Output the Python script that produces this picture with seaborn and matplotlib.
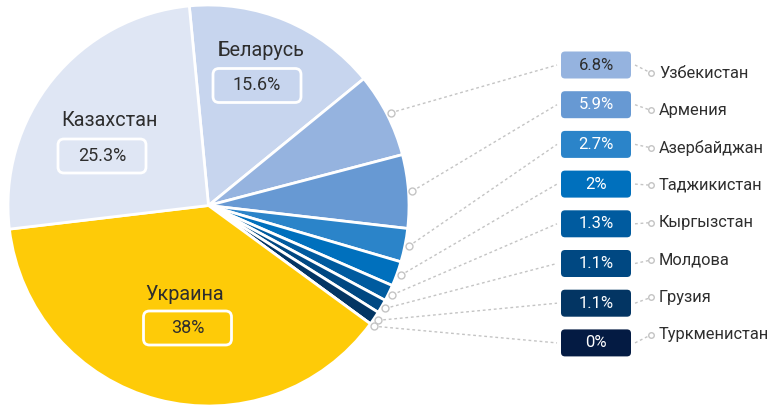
import numpy as np
import matplotlib
matplotlib.use('Agg')
import matplotlib.pyplot as plt
from matplotlib.patches import FancyBboxPatch
import seaborn as sns

#### Data (in pie order, clockwise from the top)
countries = ['Беларусь', 'Узбекистан', 'Армения', 'Азербайджан', 'Таджикистан',
             'Кыргызстан', 'Молдова', 'Грузия', 'Туркменистан', 'Украина', 'Казахстан']
shares = [15.6, 6.8, 5.9, 2.7, 2.0, 1.3, 1.1, 1.1, 0.0, 38.0, 25.3]
share_labels = ['15.6%', '6.8%', '5.9%', '2.7%', '2%', '1.3%', '1.1%', '1.1%', '0%', '38%', '25.3%']
colors = ['#c7d5ee', '#95b3df', '#6799d3', '#2b84c9', '#0070bd',
          '#005b9f', '#004882', '#033563', '#041b43', '#fecb08', '#dfe6f4']

#### Figure setup (1 data unit = 1 pixel)
W, H = 769, 408
sns.set_theme(style='white')
plt.rcParams['font.family'] = ['Roboto', 'DejaVu Sans']
fig = plt.figure(figsize=(W / 100, H / 100), dpi=100)
ax = fig.add_axes([0, 0, 1, 1])

def py(y):
    return H - y

cx, cy, R = 208.5, py(205.5), 200.5
wedges, _ = ax.pie(shares, colors=sns.color_palette(colors), startangle=95.5,
                   counterclock=False, center=(cx, cy), radius=R,
                   wedgeprops=dict(edgecolor='white', linewidth=2))
ax.set_xlim(0, W)
ax.set_ylim(0, H)
ax.set_aspect('equal')
ax.axis('off')

text_col = '#2e2e2e'
line_col = '#c4c4c4'

#### Big slices: name + white outlined box
big = {'Беларусь': (217, 51, 257, 85.5),
       'Казахстан': (61, 121, 102, 156),
       'Украина': (145, 295, 187.5, 328)}
for name, (tx, ty, bx, by) in big.items():
    i = countries.index(name)
    ax.text(tx, py(ty), name, fontsize=14.3, color=text_col, ha='left', va='center')
    ax.add_patch(FancyBboxPatch((bx - 44, py(by) - 17), 88, 34,
                                boxstyle='round,pad=0,rounding_size=6',
                                fc='none', ec='white', lw=2))
    ax.text(bx, py(by), share_labels[i], fontsize=13, color=text_col,
            ha='center', va='center')

#### Small slices: connector + colored box + name
small = countries[1:9]
for k, name in enumerate(small):
    i = countries.index(name)
    w = wedges[i]
    mid = np.deg2rad((w.theta1 + w.theta2) / 2)
    ex, ey = cx + (R + 4) * np.cos(mid), cy + (R + 4) * np.sin(mid)
    by = py(65 + k * 39.7)
    ly = py(73 + k * 37.4)
    ax.plot([ex, 557], [ey, by], color=line_col, lw=1, ls=(0, (2, 2)), zorder=1)
    ax.plot(ex, ey, 'o', ms=5, mfc='white', mec=line_col, mew=1, zorder=3)
    ax.add_patch(FancyBboxPatch((561, by - 13.5), 70, 27,
                                boxstyle='round,pad=0,rounding_size=4',
                                fc=colors[i], ec='none'))
    tc = text_col if k == 0 else 'white'
    ax.text(596, by, share_labels[i], fontsize=12, color=tc, ha='center', va='center')
    ax.plot([635, 651], [by, ly], color=line_col, lw=1, ls=(0, (2, 2)), zorder=1)
    ax.plot(651, ly, 'o', ms=4, mfc='white', mec=line_col, mew=1, zorder=3)
    ax.text(659, ly, name, fontsize=11.8, color=text_col, ha='left', va='center')

plt.savefig('out.png', dpi=100)
